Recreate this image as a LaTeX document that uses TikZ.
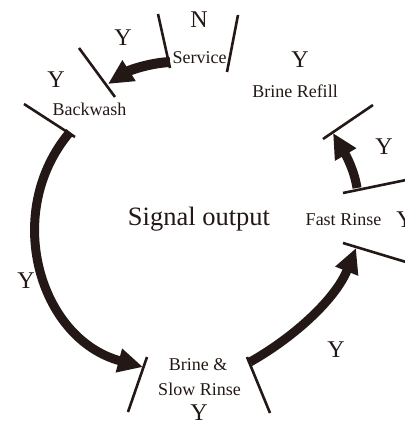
\documentclass[tikz,border=0pt]{standalone}
\usepackage{fontspec}
\setmainfont{Liberation Serif}
\usetikzlibrary{arrows.meta}
\definecolor{ink}{RGB}{35,24,21}
\begin{document}
\begin{tikzpicture}[x=1pt,y=-1pt,
  tick/.style={draw=ink,line width=2.6pt},
  flow/.style={draw=ink,line width=9pt,-{Triangle[length=25pt,width=23pt]}},
  ylab/.style={text=ink,font=\fontsize{24}{28}\selectfont,anchor=base,inner sep=0pt},
  stlab/.style={text=ink,font=\fontsize{18}{22}\selectfont,anchor=base,inner sep=0pt},
  biglab/.style={text=ink,font=\fontsize{26.5}{30}\selectfont,anchor=base,inner sep=0pt}]
\useasboundingbox (0,0) rectangle (405,424);
% ticks
\coordinate (t1a) at (158,14);  \coordinate (t1b) at (170,68);
\coordinate (t2a) at (238,15);  \coordinate (t2b) at (227,72);
\coordinate (t3a) at (79,48);   \coordinate (t3b) at (115,97);
\coordinate (t4a) at (24,104);  \coordinate (t4b) at (75,137);
\coordinate (t5a) at (147,357); \coordinate (t5b) at (128,412);
\coordinate (t6a) at (247,357); \coordinate (t6b) at (270,413);
\coordinate (t7a) at (343,243); \coordinate (t7b) at (406,262);
\coordinate (t8a) at (343,193); \coordinate (t8b) at (406,180);
\coordinate (t9a) at (323,139); \coordinate (t9b) at (373,105);
\foreach \t in {t1,t2,t3,t4,t5,t6,t7,t8,t9} \draw[tick] (\t a) -- (\t b);
% labels
\node[ylab] (n) at (199,27) {N};
\node[stlab] (service) at (199.5,63) {Service};
\node[ylab] (y1) at (123,45) {Y};
\node[ylab] (y2) at (56,87) {Y};
\node[stlab] (backwash) at (89.5,115) {Backwash};
\node[ylab] (y3) at (300,67) {Y};
\node[stlab] (refill) at (295,97) {Brine Refill};
\node[ylab] (y4) at (384,154) {Y};
\node[stlab] (fast) at (343.5,225) {Fast Rinse};
\node[ylab] (y5) at (405,227) {Y};
\node[biglab] (signal) at (199,225) {Signal output};
\node[ylab] (y6) at (26,288) {Y};
\node[stlab] (brine1) at (198,370) {Brine \&};
\node[stlab] (brine2) at (199.5,395) {Slow Rinse};
\node[ylab] (y7) at (199,420) {Y};
\node[ylab] (y8) at (336,357) {Y};
% arrows
\coordinate (a1s) at (170,62);  \coordinate (a1e) at (108,84);
\coordinate (a2s) at (70,132);  \coordinate (a2e) at (143,367);
\coordinate (a3s) at (250,362); \coordinate (a3e) at (356,248);
\coordinate (a4s) at (357,188); \coordinate (a4e) at (333,133);
\draw[flow,line width=10pt] (a1s) .. controls (150,63) and (130,70) .. (a1e);
\draw[flow] (a2s) .. controls (2,212) and (39,339) .. (a2e);
\draw[flow] (a3s) .. controls (296,336) and (336,298) .. (a3e);
\draw[flow] (a4s) .. controls (354,168) and (343,150) .. (a4e);
\end{tikzpicture}
\end{document}
